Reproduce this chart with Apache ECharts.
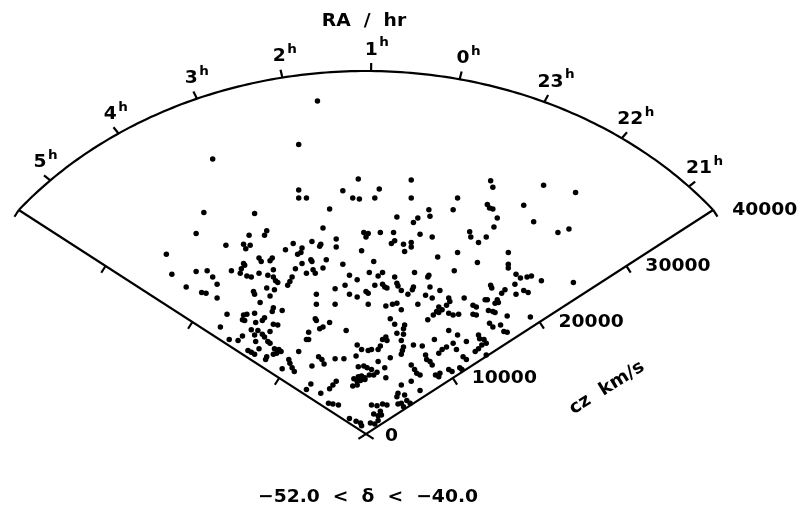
<!DOCTYPE html>
<html>
<head>
<meta charset="utf-8">
<title>RA / hr wedge</title>
<script src="https://cdn.jsdelivr.net/npm/echarts@6.0.0/dist/echarts.min.js"></script>
<style>
  html, body { margin: 0; padding: 0; background: #fff; }
  #main { width: 799px; height: 507px; }
</style>
</head>
<body>
<div id="main"></div>
<script>
// tick labels of the two axes
var raTicks = [5, 4, 3, 2, 1, 0, 23, 22, 21];        // hours
var czTicks = [0, 10000, 20000, 30000, 40000];       // km/s
var czMax = 40000;
var raFirst = 5.535, raLast = 20.58;                 // RA limits of the slice (h)

// galaxies, projected on the plane of the slice, in units of 100 km/s
// (x to the 21h side, y towards ~1h)
var galX = [
  -61,-139,-61,-61,-147,-101,-154,-106,-90,-92,
  -127,-111,-105,-109,-181,-66,-73,-62,-97,-95,
  -87,-85,-111,-44,-7,41,-54,-21,12,-12,
  -6,8,41,-33,57,28,47,58,43,-39,
  -2,2,0,13,25,49,60,-27,-49,-41,
  -42,-58,-59,-27,23,26,34,41,41,35,
  -4,-50,-49,-36,-21,7,65,-58,
  113,115,161,190,83,79,110,112,115,143,
  119,152,116,94,95,109,102,174,184,83,
  129,101,129,
  -176,-154,-144,-139,-122,-110,-113,-114,-108,-104,
  -84,-97,-89,-84,-82,-80,-64,-67,-69,-71,
  -163,-135,-149,-145,-135,-90,-83,-102,-101,-87,
  -96,-84,-85,-76,-126,-111,-108,-112,-110,-101,
  -92,-94,-100,-84,-80,-132,-104,-98,-87,-94,
  -92,-112,-101,-124,-116,-100,-89,-87,-97,-107,
  -104,-101,-83,-79,-81,-77,-84,-90,-91,-61,
  -70,-69,-67,-65,-76,
  -54,-48,-46,-39,-15,3,11,15,26,28,
  29,44,57,56,-8,-19,8,15,17,19,
  43,42,58,-28,32,-45,-15,-8,0,2,
  38,54,60,-45,-28,2,18,24,28,47,
  32,66,64,61,-46,-45,-33,22,56,-42,
  -39,35,34,26,-52,-18,28,34,-54,-52,
  18,19,15,32,62,-8,13,11,-4,2,
  5,34,33,32,43,51,22,-9,-28,-20,
  -43,-40,54,55,58,60,-38,-49,-7,-2,
  1,11,17,5,10,41,44,46,49,-11,
  -7,-4,-1,3,7,-8,-5,-12,-8,-1,
  18,-50,-54,-41,-33,-30,-27,32,41,
  49,29,28,35,37,32,40,-34,-30,-25,
  5,10,15,19,13,14,7,11,-15,-9,
  -5,-4,4,8,11,29,34,
  80,129,136,140,146,150,159,188,113,114,
  67,126,123,135,136,143,147,75,76,73,
  89,108,110,119,120,117,69,66,97,100,
  75,79,84,97,100,111,115,117,128,149,
  112,115,122,125,128,75,83,102,103,107,
  109,105,102,99,91,79,73,69,66,82,
  109,88,91,75,78,63,66,67,85,87
];
var galY = [
  319,303,269,260,244,243,221,219,224,219,
  208,209,208,204,198,210,203,198,194,190,
  191,194,188,367,281,280,260,268,270,260,
  259,260,260,248,247,239,238,240,233,227,
  222,221,217,222,222,220,217,215,212,209,
  207,205,200,206,210,213,209,211,206,201,
  202,192,190,192,187,190,195,188,
  279,272,274,266,260,247,253,249,248,252,
  238,234,228,223,217,217,211,222,226,200,
  200,189,187,
  176,179,180,173,180,186,182,177,174,173,
  181,177,175,173,169,167,182,173,168,164,
  162,165,156,155,150,161,159,157,154,152,
  145,139,135,136,132,131,132,126,125,133,
  128,125,123,121,120,118,115,114,113,110,
  107,108,109,104,103,102,102,100,94,92,
  90,88,94,93,89,91,88,85,82,91,
  82,78,73,69,72,
  177,181,177,183,175,178,174,178,173,166,
  163,178,175,173,170,164,164,165,162,161,
  162,159,162,160,158,154,154,151,157,155,
  154,153,150,143,143,143,141,143,144,143,
  137,140,135,131,127,125,123,127,126,116,
  118,120,116,121,112,114,111,110,104,104,
  107,103,104,103,104,98,97,93,93,92,
  93,96,92,88,98,97,84,86,83,83,
  85,82,87,82,80,76,77,75,74,75,
  73,80,73,71,68,76,71,67,65,61,
  63,64,62,65,65,58,59,53,54,60,
  62,55,49,45,50,54,58,54,58,
  48,45,41,43,37,34,34,34,33,32,
  32,31,33,32,25,21,22,20,17,14,
  12,9,12,11,15,33,30,
  180,183,176,172,173,174,169,167,164,161,
  158,159,155,165,154,158,156,150,146,142,
  150,148,148,148,145,144,137,134,142,140,
  133,131,132,132,131,136,135,134,130,129,
  122,118,120,113,112,114,109,109,105,104,
  100,98,94,91,102,100,96,93,89,93,
  87,85,82,71,69,65,63,67,73,71
];

var fontFam = 'DejaVu Sans';
var ink = '#000';
var stretch = 1.04;   // the plotting font is wide

// angle on the plot (deg from vertical, positive to the right) for RA in hours
function raAngle(h) {
  var d = h > 12 ? h - 24 : h;
  return 0.66 - (d - 1) * 11.59;
}

function textEl(s, x, y, align, size, rot) {
  return {
    type: 'text', x: x, y: y, scaleX: stretch, rotation: rot || 0,
    style: {
      text: s, fill: ink, fontSize: size, fontFamily: fontFam, fontWeight: 'bold',
      align: align, verticalAlign: 'middle',
      textAlign: align, textVerticalAlign: 'middle'
    }
  };
}

var galaxies = galX.map(function (x, i) { return [x, galY[i]]; });

var myChart = echarts.init(document.getElementById('main'));

// wedge outline, ticks and tick labels
function drawFrame(params, api) {
  var kids = [];
  var rMax = czMax / 100;
  var phiL = raAngle(raFirst), phiR = raAngle(raLast);
  function pt(r, phi) {
    var a = phi * Math.PI / 180;
    return api.coord([r * Math.sin(a), r * Math.cos(a)]);
  }
  function seg(p, q) {
    kids.push({
      type: 'line',
      shape: { x1: p[0], y1: p[1], x2: q[0], y2: q[1] },
      style: { stroke: ink, lineWidth: 2.2 }
    });
  }
  var o = pt(0, 0);

  var arc = [];
  for (var k = 0; k <= 160; k++) {
    arc.push(pt(rMax, phiL + (phiR - phiL) * k / 160));
  }
  kids.push({ type: 'polyline', shape: { points: arc },
    style: { stroke: ink, lineWidth: 2.2, fill: null } });

  [phiL, phiR].forEach(function (phi, side) {
    var e = pt(rMax, phi);
    var ux = e[0] - o[0], uy = e[1] - o[1];
    var l = Math.sqrt(ux * ux + uy * uy);
    ux /= l; uy /= l;
    seg([o[0] - ux * 9, o[1] - uy * 9], e);
    var nx = -uy, ny = ux;
    if (ny < 0) { nx = -nx; ny = -ny; }
    czTicks.forEach(function (cz) {
      var p = pt(cz / 100, phi);
      if (cz > 0) seg(p, [p[0] + nx * 8, p[1] + ny * 8]);
      if (side === 1) {
        kids.push(textEl(String(cz), p[0] + 19, p[1] + (cz === 0 ? 2 : 0), 'left', 18));
      }
    });
  });

  raTicks.forEach(function (h) {
    var p = pt(rMax, raAngle(h));
    var dx = p[0] - o[0], dy = p[1] - o[1];
    var l = Math.sqrt(dx * dx + dy * dy);
    dx /= l; dy /= l;
    seg(p, [p[0] + dx * 8, p[1] + dy * 8]);
    var cx = p[0] + dx * 13, cy = p[1] + dy * 8 - 13;
    var s = String(h);
    kids.push(textEl(s, cx, cy, 'center', 18));
    kids.push(textEl('h', cx + s.length * 6.5 + 1.5, cy - 7, 'left', 13));
  });

  return { type: 'group', children: kids };
}

var option = {
  animation: false,
  backgroundColor: '#fff',
  grid: { left: 2, right: 69, top: 71, bottom: 73 },
  xAxis: { type: 'value', min: -330, max: 330, show: false },
  yAxis: { type: 'value', min: 0, max: 400, show: false },
  graphic: [
    textEl('RA  /  hr', 364, 21, 'center', 18),
    textEl('\u221252.0  <  \u03b4  <  \u221240.0', 368, 497, 'center', 18),
    textEl('cz  km/s', 607, 388, 'center', 18, 32 * Math.PI / 180)
  ],
  series: [
    {
      type: 'custom',
      silent: true,
      data: [[0, 0]],
      renderItem: drawFrame,
      z: 3
    },
    {
      type: 'scatter',
      silent: true,
      symbol: 'circle',
      symbolSize: 5.5,
      itemStyle: { color: ink, opacity: 1 },
      data: galaxies,
      z: 2
    }
  ]
};

myChart.setOption(option);
</script>
</body>
</html>
